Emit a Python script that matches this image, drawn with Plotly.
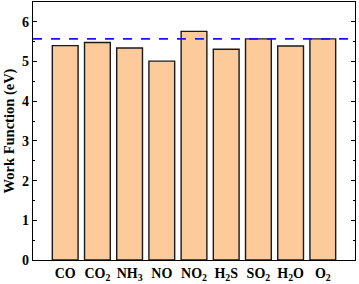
import plotly.graph_objects as go

categories = ["CO", "CO<sub>2</sub>", "NH<sub>3</sub>", "NO", "NO<sub>2</sub>",
              "H<sub>2</sub>S", "SO<sub>2</sub>", "H<sub>2</sub>O", "O<sub>2</sub>"]
work_function = [5.40, 5.48, 5.34, 5.01, 5.76, 5.31, 5.57, 5.39, 5.57]
reference_level = 5.57
y_ticks = [0, 1, 2, 3, 4, 5, 6]

font_family = "Liberation Serif"

fig = go.Figure()
fig.add_trace(go.Bar(
    x=list(range(len(categories))),
    y=work_function,
    marker=dict(color="#FDCB9A", line=dict(color="#1a1a1a", width=1.4)),
    width=0.8,
))
fig.add_hline(y=reference_level, line=dict(color="#1414FF", width=1.6, dash="dash"))

fig.update_layout(
    width=359, height=284,
    margin=dict(l=33, r=4, t=2, b=24),
    plot_bgcolor="white", paper_bgcolor="white",
    showlegend=False,
    font=dict(family=font_family, color="black"),
)
fig.update_xaxes(
    range=[-1, 9],
    tickmode="array",
    tickvals=list(range(len(categories))),
    ticktext=[f"<b>{c}</b>" for c in categories],
    tickfont=dict(size=14, family=font_family),
    ticks="",
    showline=True, linecolor="black", linewidth=1.2, mirror=True,
    showgrid=False, zeroline=False,
    automargin=False,
)
fig.update_yaxes(
    range=[0, 6.5],
    tickmode="array",
    tickvals=y_ticks,
    ticktext=[f"<b>{v}</b>" for v in y_ticks],
    tickfont=dict(size=14, family=font_family),
    ticks="inside", ticklen=4, tickwidth=1, tickcolor="black",
    minor=dict(ticks="inside", ticklen=2, tickwidth=1, tickcolor="black", dtick=0.5),
    showline=True, linecolor="black", linewidth=1.2, mirror="allticks",
    showgrid=False, zeroline=False,
    automargin=False,
    title=dict(text="<b>Work Function (eV)</b>", font=dict(size=14.5, family=font_family), standoff=4),
)

fig.write_html(
    "out.html",
    config={"displayModeBar": False},
    post_script="document.body.style.margin='0';document.body.style.padding='0';",
)
